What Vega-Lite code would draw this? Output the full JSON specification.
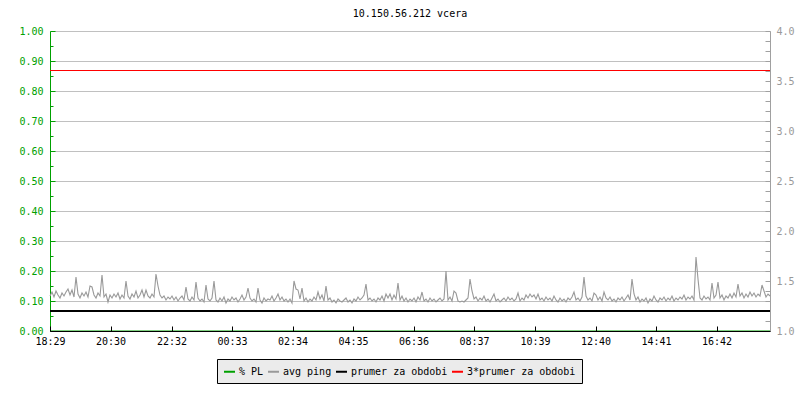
{
  "$schema": "https://vega.github.io/schema/vega-lite/v6.json",
  "width": 720,
  "height": 300,
  "autosize": {"type": "none"},
  "padding": {"left": 50, "top": 31, "right": 30, "bottom": 69},
  "background": "white",
  "title": {"text": "10.150.56.212 vcera", "font": "DejaVu Sans Mono", "fontSize": 10, "fontWeight": "normal", "color": "#000000", "anchor": "middle", "frame": "group", "baseline": "alphabetic", "offset": -1},
  "config": {
    "view": {"stroke": null},
    "axis": {"labelFont": "DejaVu Sans Mono", "labelFontSize": 10, "domainWidth": 1, "tickWidth": 1},
    "legend": {"labelFont": "DejaVu Sans Mono", "labelFontSize": 10, "labelColor": "#000000"}
  },
  "datasets": {
    "ping": [
      {"m":0,"ping":1.35},{"m":4,"ping":1.39},{"m":8,"ping":1.34},{"m":12,"ping":1.40},{"m":16,"ping":1.36},{"m":20,"ping":1.33},{"m":24,"ping":1.38},{"m":28,"ping":1.35},{"m":32,"ping":1.39},{"m":36,"ping":1.42},
      {"m":40,"ping":1.36},{"m":44,"ping":1.41},{"m":48,"ping":1.34},{"m":52,"ping":1.54},{"m":56,"ping":1.37},{"m":60,"ping":1.33},{"m":64,"ping":1.38},{"m":68,"ping":1.35},{"m":72,"ping":1.39},{"m":76,"ping":1.34},
      {"m":80,"ping":1.45},{"m":84,"ping":1.44},{"m":88,"ping":1.36},{"m":92,"ping":1.33},{"m":96,"ping":1.38},{"m":100,"ping":1.35},{"m":104,"ping":1.56},{"m":108,"ping":1.34},{"m":112,"ping":1.37},{"m":116,"ping":1.29},
      {"m":120,"ping":1.36},{"m":124,"ping":1.33},{"m":128,"ping":1.37},{"m":132,"ping":1.34},{"m":136,"ping":1.38},{"m":140,"ping":1.32},{"m":144,"ping":1.36},{"m":148,"ping":1.33},{"m":152,"ping":1.50},{"m":156,"ping":1.35},
      {"m":160,"ping":1.32},{"m":164,"ping":1.37},{"m":168,"ping":1.34},{"m":172,"ping":1.40},{"m":176,"ping":1.33},{"m":180,"ping":1.36},{"m":184,"ping":1.41},{"m":188,"ping":1.34},{"m":192,"ping":1.41},{"m":196,"ping":1.35},
      {"m":200,"ping":1.33},{"m":204,"ping":1.37},{"m":208,"ping":1.34},{"m":212,"ping":1.57},{"m":216,"ping":1.45},{"m":220,"ping":1.36},{"m":224,"ping":1.33},{"m":228,"ping":1.35},{"m":232,"ping":1.31},{"m":236,"ping":1.34},
      {"m":240,"ping":1.32},{"m":244,"ping":1.35},{"m":248,"ping":1.31},{"m":252,"ping":1.34},{"m":256,"ping":1.30},{"m":260,"ping":1.33},{"m":264,"ping":1.35},{"m":268,"ping":1.31},{"m":272,"ping":1.44},{"m":276,"ping":1.32},
      {"m":280,"ping":1.30},{"m":284,"ping":1.34},{"m":288,"ping":1.31},{"m":292,"ping":1.49},{"m":296,"ping":1.33},{"m":300,"ping":1.30},{"m":304,"ping":1.32},{"m":308,"ping":1.29},{"m":312,"ping":1.46},{"m":316,"ping":1.32},
      {"m":320,"ping":1.30},{"m":324,"ping":1.33},{"m":328,"ping":1.50},{"m":332,"ping":1.31},{"m":336,"ping":1.29},{"m":340,"ping":1.33},{"m":344,"ping":1.30},{"m":348,"ping":1.34},{"m":352,"ping":1.28},{"m":356,"ping":1.32},
      {"m":360,"ping":1.30},{"m":364,"ping":1.34},{"m":368,"ping":1.31},{"m":372,"ping":1.33},{"m":376,"ping":1.29},{"m":380,"ping":1.32},{"m":384,"ping":1.36},{"m":388,"ping":1.31},{"m":392,"ping":1.34},{"m":396,"ping":1.43},
      {"m":400,"ping":1.33},{"m":404,"ping":1.30},{"m":408,"ping":1.32},{"m":412,"ping":1.29},{"m":416,"ping":1.43},{"m":420,"ping":1.31},{"m":424,"ping":1.28},{"m":428,"ping":1.33},{"m":432,"ping":1.30},{"m":436,"ping":1.32},
      {"m":440,"ping":1.31},{"m":444,"ping":1.35},{"m":448,"ping":1.30},{"m":452,"ping":1.33},{"m":456,"ping":1.37},{"m":460,"ping":1.31},{"m":464,"ping":1.34},{"m":468,"ping":1.30},{"m":472,"ping":1.32},{"m":476,"ping":1.29},
      {"m":480,"ping":1.32},{"m":484,"ping":1.28},{"m":488,"ping":1.50},{"m":492,"ping":1.42},{"m":496,"ping":1.41},{"m":500,"ping":1.32},{"m":504,"ping":1.43},{"m":508,"ping":1.30},{"m":512,"ping":1.33},{"m":516,"ping":1.29},
      {"m":520,"ping":1.32},{"m":524,"ping":1.30},{"m":528,"ping":1.34},{"m":532,"ping":1.31},{"m":536,"ping":1.39},{"m":540,"ping":1.32},{"m":544,"ping":1.36},{"m":548,"ping":1.30},{"m":552,"ping":1.45},{"m":556,"ping":1.31},
      {"m":560,"ping":1.33},{"m":564,"ping":1.29},{"m":568,"ping":1.31},{"m":572,"ping":1.28},{"m":576,"ping":1.32},{"m":580,"ping":1.30},{"m":584,"ping":1.29},{"m":588,"ping":1.31},{"m":592,"ping":1.33},{"m":596,"ping":1.29},
      {"m":600,"ping":1.31},{"m":604,"ping":1.28},{"m":608,"ping":1.32},{"m":612,"ping":1.30},{"m":616,"ping":1.34},{"m":620,"ping":1.31},{"m":624,"ping":1.33},{"m":628,"ping":1.36},{"m":632,"ping":1.47},{"m":636,"ping":1.31},
      {"m":640,"ping":1.33},{"m":644,"ping":1.30},{"m":648,"ping":1.32},{"m":652,"ping":1.29},{"m":656,"ping":1.33},{"m":660,"ping":1.31},{"m":664,"ping":1.35},{"m":668,"ping":1.30},{"m":672,"ping":1.37},{"m":676,"ping":1.33},
      {"m":680,"ping":1.37},{"m":684,"ping":1.31},{"m":688,"ping":1.36},{"m":692,"ping":1.32},{"m":696,"ping":1.48},{"m":700,"ping":1.31},{"m":704,"ping":1.35},{"m":708,"ping":1.30},{"m":712,"ping":1.33},{"m":716,"ping":1.29},
      {"m":720,"ping":1.32},{"m":724,"ping":1.30},{"m":728,"ping":1.33},{"m":732,"ping":1.29},{"m":736,"ping":1.34},{"m":740,"ping":1.31},{"m":744,"ping":1.39},{"m":748,"ping":1.30},{"m":752,"ping":1.32},{"m":756,"ping":1.29},
      {"m":760,"ping":1.33},{"m":764,"ping":1.30},{"m":768,"ping":1.32},{"m":772,"ping":1.29},{"m":776,"ping":1.31},{"m":780,"ping":1.33},{"m":784,"ping":1.30},{"m":788,"ping":1.32},{"m":792,"ping":1.60},{"m":796,"ping":1.31},
      {"m":800,"ping":1.34},{"m":804,"ping":1.30},{"m":808,"ping":1.40},{"m":812,"ping":1.38},{"m":816,"ping":1.30},{"m":820,"ping":1.29},{"m":824,"ping":1.30},{"m":828,"ping":1.29},{"m":832,"ping":1.31},{"m":836,"ping":1.33},
      {"m":840,"ping":1.52},{"m":844,"ping":1.40},{"m":848,"ping":1.32},{"m":852,"ping":1.34},{"m":856,"ping":1.30},{"m":860,"ping":1.33},{"m":864,"ping":1.31},{"m":868,"ping":1.35},{"m":872,"ping":1.30},{"m":876,"ping":1.32},
      {"m":880,"ping":1.29},{"m":884,"ping":1.33},{"m":888,"ping":1.37},{"m":892,"ping":1.30},{"m":896,"ping":1.32},{"m":900,"ping":1.29},{"m":904,"ping":1.31},{"m":908,"ping":1.33},{"m":912,"ping":1.30},{"m":916,"ping":1.34},
      {"m":920,"ping":1.31},{"m":924,"ping":1.33},{"m":928,"ping":1.30},{"m":932,"ping":1.32},{"m":936,"ping":1.38},{"m":940,"ping":1.30},{"m":944,"ping":1.33},{"m":948,"ping":1.31},{"m":952,"ping":1.36},{"m":956,"ping":1.33},
      {"m":960,"ping":1.37},{"m":964,"ping":1.34},{"m":968,"ping":1.36},{"m":972,"ping":1.32},{"m":976,"ping":1.37},{"m":980,"ping":1.31},{"m":984,"ping":1.33},{"m":988,"ping":1.30},{"m":992,"ping":1.34},{"m":996,"ping":1.31},
      {"m":1000,"ping":1.33},{"m":1004,"ping":1.30},{"m":1008,"ping":1.35},{"m":1012,"ping":1.31},{"m":1016,"ping":1.29},{"m":1020,"ping":1.33},{"m":1024,"ping":1.30},{"m":1028,"ping":1.32},{"m":1032,"ping":1.29},{"m":1036,"ping":1.33},
      {"m":1040,"ping":1.31},{"m":1044,"ping":1.34},{"m":1048,"ping":1.39},{"m":1052,"ping":1.31},{"m":1056,"ping":1.33},{"m":1060,"ping":1.30},{"m":1064,"ping":1.34},{"m":1068,"ping":1.54},{"m":1072,"ping":1.35},{"m":1076,"ping":1.31},
      {"m":1080,"ping":1.33},{"m":1084,"ping":1.30},{"m":1088,"ping":1.38},{"m":1092,"ping":1.36},{"m":1096,"ping":1.31},{"m":1100,"ping":1.34},{"m":1104,"ping":1.30},{"m":1108,"ping":1.39},{"m":1112,"ping":1.33},{"m":1116,"ping":1.31},
      {"m":1120,"ping":1.34},{"m":1124,"ping":1.30},{"m":1128,"ping":1.32},{"m":1132,"ping":1.29},{"m":1136,"ping":1.33},{"m":1140,"ping":1.31},{"m":1144,"ping":1.34},{"m":1148,"ping":1.30},{"m":1152,"ping":1.33},{"m":1156,"ping":1.36},
      {"m":1160,"ping":1.31},{"m":1164,"ping":1.52},{"m":1168,"ping":1.37},{"m":1172,"ping":1.31},{"m":1176,"ping":1.34},{"m":1180,"ping":1.29},{"m":1184,"ping":1.32},{"m":1188,"ping":1.30},{"m":1192,"ping":1.33},{"m":1196,"ping":1.28},
      {"m":1200,"ping":1.32},{"m":1204,"ping":1.30},{"m":1208,"ping":1.35},{"m":1212,"ping":1.31},{"m":1216,"ping":1.29},{"m":1220,"ping":1.33},{"m":1224,"ping":1.31},{"m":1228,"ping":1.34},{"m":1232,"ping":1.30},{"m":1236,"ping":1.33},
      {"m":1240,"ping":1.31},{"m":1244,"ping":1.35},{"m":1248,"ping":1.30},{"m":1252,"ping":1.33},{"m":1256,"ping":1.31},{"m":1260,"ping":1.34},{"m":1264,"ping":1.32},{"m":1268,"ping":1.36},{"m":1272,"ping":1.31},{"m":1276,"ping":1.34},
      {"m":1280,"ping":1.32},{"m":1284,"ping":1.35},{"m":1288,"ping":1.31},{"m":1292,"ping":1.74},{"m":1296,"ping":1.52},{"m":1300,"ping":1.33},{"m":1304,"ping":1.31},{"m":1308,"ping":1.35},{"m":1312,"ping":1.32},{"m":1316,"ping":1.34},
      {"m":1320,"ping":1.31},{"m":1324,"ping":1.48},{"m":1328,"ping":1.33},{"m":1332,"ping":1.36},{"m":1336,"ping":1.49},{"m":1340,"ping":1.33},{"m":1344,"ping":1.36},{"m":1348,"ping":1.31},{"m":1352,"ping":1.35},{"m":1356,"ping":1.33},
      {"m":1360,"ping":1.37},{"m":1364,"ping":1.33},{"m":1368,"ping":1.38},{"m":1372,"ping":1.34},{"m":1376,"ping":1.47},{"m":1380,"ping":1.35},{"m":1384,"ping":1.38},{"m":1388,"ping":1.33},{"m":1392,"ping":1.37},{"m":1396,"ping":1.34},
      {"m":1400,"ping":1.39},{"m":1404,"ping":1.35},{"m":1408,"ping":1.38},{"m":1412,"ping":1.34},{"m":1416,"ping":1.37},{"m":1420,"ping":1.35},{"m":1424,"ping":1.46},{"m":1428,"ping":1.40},{"m":1432,"ping":1.34},{"m":1436,"ping":1.37},
      {"m":1440,"ping":1.35}
    ],
    "pl": [{"m":0,"pl":0},{"m":1440,"pl":0}]
  },
  "layer": [
    {
      "data": {"name": "pl"},
      "mark": {"type": "line", "strokeWidth": 1},
      "encoding": {
        "x": {"field": "m", "type": "quantitative", "scale": {"domain": [0, 1440], "nice": false, "zero": false},
          "axis": {"values": [0,121,243,364,485,606,727,848,970,1091,1212,1333], "tickCount": 12, "labelExpr": "timeFormat(datetime(2024,0,1,18,29+datum.value,0),'%H:%M')", "title": null, "grid": false, "tickSize": -5, "domainColor": "#000000", "tickColor": "#000000", "labelColor": "#000000", "labelPadding": 10, "labelFlush": false, "labelOverlap": false, "zindex": 1}},
        "y": {"field": "pl", "type": "quantitative", "scale": {"domain": [0, 1], "nice": false, "zero": false},
          "axis": {"orient": "left", "values": [0,0.05,0.1,0.15,0.2,0.25,0.3,0.35,0.4,0.45,0.5,0.55,0.6,0.65,0.7,0.75,0.8,0.85,0.9,0.95,1], "tickCount": 21,
            "labelExpr": "round(datum.value*100)%10==0 ? format(datum.value,'.2f') : ''", "title": null,
            "tickSize": {"condition": {"test": "round(datum.value*100)%10==0", "value": -5}, "value": -3},
            "grid": true, "gridColor": "#c0c0c0",
            "gridOpacity": {"condition": {"test": "round(datum.value*100)%10==0", "value": 1}, "value": 0},
            "domainColor": "#00a000", "tickColor": "#00a000", "labelColor": "#00a000", "labelPadding": 12, "labelFlush": false, "labelOverlap": false}},
        "color": {"datum": "% PL", "type": "nominal",
          "scale": {"domain": ["% PL", "avg ping", "prumer za obdobi", "3*prumer za obdobi"], "range": ["#00a000", "#999999", "#000000", "#ff0000"]},
          "legend": {"title": null, "orient": "none", "legendX": 167, "legendY": 328, "direction": "horizontal", "columns": 4, "columnPadding": 0, "symbolType": "stroke", "symbolSize": 121, "symbolStrokeWidth": 2, "labelOffset": 3, "padding": 6, "fillColor": "#ebebeb", "strokeColor": "#000000"}}
      }
    },
    {
      "layer": [
        {
          "data": {"name": "ping"},
          "mark": {"type": "line", "strokeWidth": 1.1},
          "encoding": {
            "x": {"field": "m", "type": "quantitative", "scale": {"domain": [0, 1440], "nice": false, "zero": false},
              "axis": {"values": [0,121,243,364,485,606,727,848,970,1091,1212,1333], "tickCount": 12, "labelExpr": "timeFormat(datetime(2024,0,1,18,29+datum.value,0),'%H:%M')", "title": null, "grid": false, "tickSize": -5, "domainColor": "#000000", "tickColor": "#000000", "labelColor": "#000000", "labelPadding": 10, "labelFlush": false, "labelOverlap": false, "zindex": 1}},
            "y": {"field": "ping", "type": "quantitative", "scale": {"domain": [1, 4], "nice": false, "zero": false},
              "axis": {"orient": "right", "values": [1,1.1,1.2,1.3,1.4,1.5,1.6,1.7,1.8,1.9,2,2.1,2.2,2.3,2.4,2.5,2.6,2.7,2.8,2.9,3,3.1,3.2,3.3,3.4,3.5,3.6,3.7,3.8,3.9,4], "tickCount": 31,
                "labelExpr": "round(datum.value*10)%5==0 ? format(datum.value,'.1f') : ''", "title": null, "grid": false, "tickSize": -5,
                "domainColor": "#a0a0a0", "tickColor": "#a0a0a0", "labelColor": "#999999", "labelPadding": 11, "labelFlush": false, "labelOverlap": false}},
            "color": {"datum": "avg ping", "type": "nominal"}
          }
        },
        {
          "data": {"values": [{"avg": 1.2}]},
          "mark": {"type": "rule", "strokeWidth": 2},
          "encoding": {
            "y": {"field": "avg", "type": "quantitative", "scale": {"domain": [1, 4], "nice": false, "zero": false}},
            "color": {"datum": "prumer za obdobi", "type": "nominal"}
          }
        },
        {
          "data": {"values": [{"avg3": 3.605}]},
          "mark": {"type": "rule", "strokeWidth": 1},
          "encoding": {
            "y": {"field": "avg3", "type": "quantitative", "scale": {"domain": [1, 4], "nice": false, "zero": false}},
            "color": {"datum": "3*prumer za obdobi", "type": "nominal"}
          }
        }
      ]
    }
  ],
  "resolve": {"scale": {"y": "independent"}}
}
